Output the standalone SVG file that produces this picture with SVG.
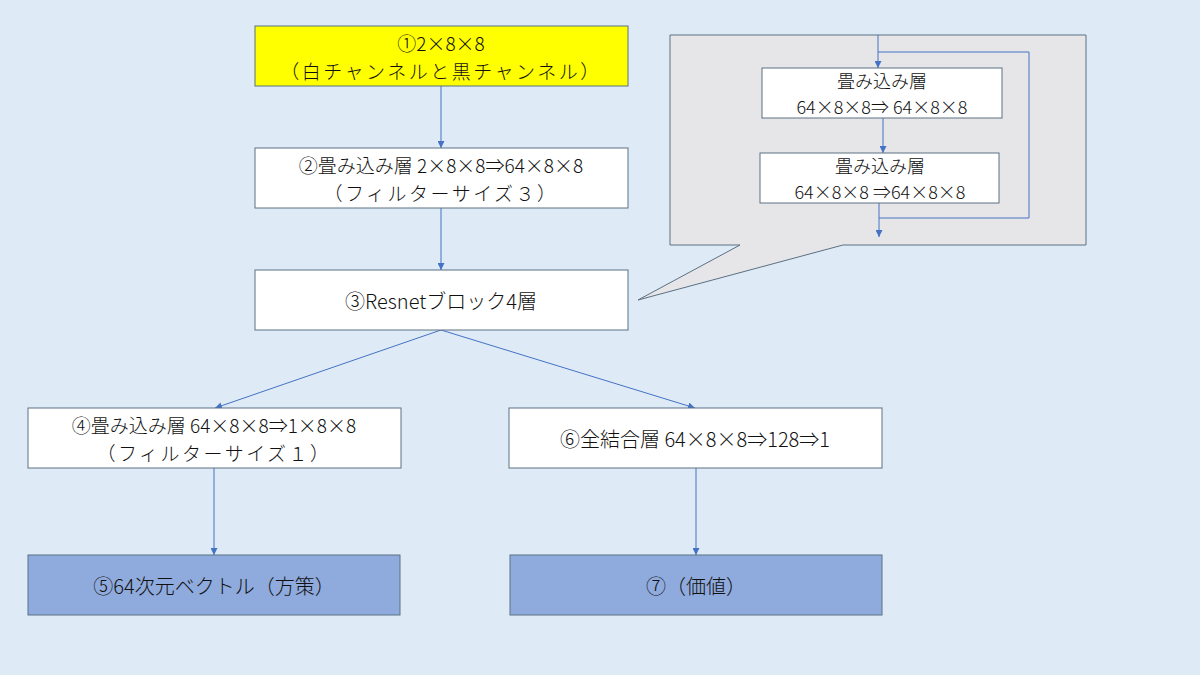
<svg xmlns="http://www.w3.org/2000/svg" width="1200" height="675" viewBox="0 0 1200 675">
<defs>
<marker id="ah" viewBox="0 0 10 10" refX="10" refY="5" markerWidth="7" markerHeight="7" orient="auto" markerUnits="userSpaceOnUse"><path d="M0,0 L10,5 L0,10 z" fill="#4472C4"/></marker>
<style>
.box{stroke:#5B7083;stroke-width:1}
.w{fill:#FFFFFF}
.t{font-family:"Noto Sans CJK JP","Noto Sans",sans-serif;font-size:20px;font-weight:300;fill:#111;text-anchor:middle;dominant-baseline:central}
.m{font-size:19px}
.j{letter-spacing:2.5px}
.s{font-size:18px}
.c{fill:none;stroke:#4472C4;stroke-width:1;marker-end:url(#ah)}
.cl{fill:none;stroke:#4472C4;stroke-width:1}
</style>
</defs>
<rect width="1200" height="675" fill="#DEEAF6"/>
<g id="callout">
<path d="M670,35 H1086 V245 H843 L638,300 L740,245 H670 Z" fill="#E6E6E8" stroke="#5B7083" stroke-width="1"/>
</g>
<g id="connectors">
<line class="c" x1="441" y1="86" x2="441" y2="148"/>
<line class="c" x1="441" y1="208" x2="441" y2="270"/>
<line class="c" x1="441" y1="330" x2="215" y2="408"/>
<line class="c" x1="441" y1="330" x2="695" y2="408"/>
<line class="c" x1="214" y1="468" x2="214" y2="555"/>
<line class="c" x1="696" y1="468" x2="696" y2="555"/>
<line class="c" x1="878" y1="35" x2="878" y2="68"/>
<polyline class="cl" points="878,52 1029,52 1029,218 879,218"/>
<line class="c" x1="883" y1="118" x2="883" y2="153"/>
<line class="c" x1="879" y1="203" x2="879" y2="237"/>
</g>
<g id="n1">
<rect class="box" x="255" y="26" width="373" height="60" fill="#FFFF00"/>
<text class="t m" x="441" y="42">①2×8×8</text>
<text class="t m j" x="441" y="70">（白チャンネルと黒チャンネル）</text>
</g>
<g id="n2">
<rect class="box w" x="255" y="148" width="373" height="60"/>
<text class="t m" x="441" y="164">②畳み込み層 2×8×8⇒64×8×8</text>
<text class="t m j" x="441" y="192">（フィルターサイズ３）</text>
</g>
<g id="n3">
<rect class="box w" x="255" y="270" width="373" height="60"/>
<text class="t" x="441" y="300">③Resnetブロック4層</text>
</g>
<g id="n4">
<rect class="box w" x="28" y="408" width="373" height="60"/>
<text class="t m" x="214" y="424">④畳み込み層 64×8×8⇒1×8×8</text>
<text class="t m j" x="214" y="452">（フィルターサイズ１）</text>
</g>
<g id="n6">
<rect class="box w" x="509" y="408" width="373" height="60"/>
<text class="t" x="695" y="438">⑥全結合層 64×8×8⇒128⇒1</text>
</g>
<g id="n5">
<rect class="box" x="28" y="555" width="372" height="60" fill="#8FAADC"/>
<text class="t" x="214" y="585">⑤64次元ベクトル（方策）</text>
</g>
<g id="n7">
<rect class="box" x="510" y="555" width="372" height="60" fill="#8FAADC"/>
<text class="t" x="696" y="585">⑦（価値）</text>
</g>
<g id="r1">
<rect class="box w" x="762" y="68" width="240" height="50"/>
<text class="t s" x="882" y="80">畳み込み層</text>
<text class="t s" x="882" y="106">64×8×8⇒ 64×8×8</text>
</g>
<g id="r2">
<rect class="box w" x="760" y="153" width="239" height="50"/>
<text class="t s" x="880" y="165">畳み込み層</text>
<text class="t s" x="880" y="191">64×8×8 ⇒64×8×8</text>
</g>
</svg>
